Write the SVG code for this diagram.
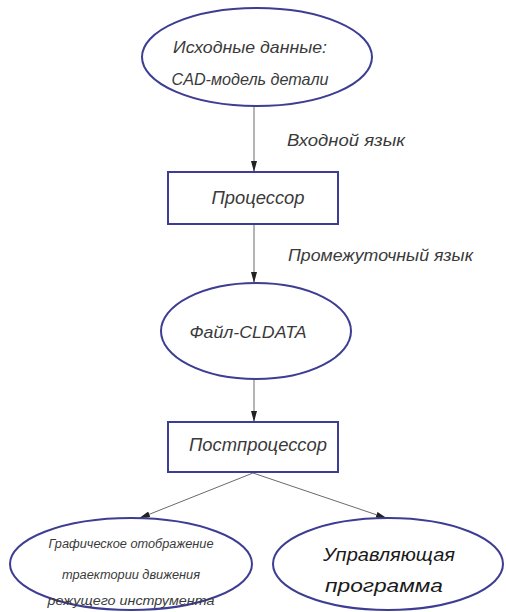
<svg xmlns="http://www.w3.org/2000/svg" width="506" height="612" viewBox="0 0 506 612">
<style>
.node{fill:#fff;stroke:#3d3d93;stroke-width:2}
.t{font-family:"Liberation Sans","DejaVu Sans",sans-serif;font-style:italic;fill:#3a3a3a;text-anchor:middle}
.lbl{font-family:"Liberation Sans","DejaVu Sans",sans-serif;font-style:italic;fill:#3a3a3a}
.c{stroke:#6a6a6a;stroke-width:1;fill:none;marker-end:url(#ah)}
</style>
<defs>
<marker id="ah" markerWidth="11" markerHeight="6" refX="10" refY="3" orient="auto" markerUnits="userSpaceOnUse">
<path d="M0,0 L11,3 L0,6 Z" fill="#222"/>
</marker>
</defs>
<rect width="506" height="612" fill="#fff"/>
<g id="connectors">
<line class="c" x1="254" y1="106" x2="254" y2="171"/>
<line class="c" x1="254" y1="224" x2="254" y2="282"/>
<line class="c" x1="254" y1="380" x2="254" y2="421"/>
<line class="c" x1="253" y1="473" x2="140" y2="518"/>
<line class="c" x1="253" y1="473" x2="386" y2="518"/>
</g>
<g id="label-input">
<text class="lbl" x="287" y="146" font-size="17" textLength="118" lengthAdjust="spacingAndGlyphs">Входной язык</text>
</g>
<g id="label-intermediate">
<text class="lbl" x="288" y="261" font-size="17" textLength="185" lengthAdjust="spacingAndGlyphs">Промежуточный язык</text>
</g>
<g id="source">
<ellipse class="node" cx="257" cy="57" rx="115" ry="49"/>
<text class="t" x="250" y="53" font-size="17" textLength="154" lengthAdjust="spacingAndGlyphs">Исходные данные:</text>
<text class="t" x="250" y="85" font-size="17" textLength="157" lengthAdjust="spacingAndGlyphs">CAD-модель детали</text>
</g>
<g id="processor">
<rect class="node" x="168" y="172" width="170" height="52"/>
<text class="t" x="258" y="204" font-size="18" textLength="93" lengthAdjust="spacingAndGlyphs">Процессор</text>
</g>
<g id="cldata">
<ellipse class="node" cx="256" cy="331" rx="95" ry="48"/>
<text class="t" x="248" y="338" font-size="17" textLength="117" lengthAdjust="spacingAndGlyphs">Файл-CLDATA</text>
</g>
<g id="postprocessor">
<rect class="node" x="168" y="422" width="170" height="50"/>
<text class="t" x="258" y="451" font-size="18" textLength="138" lengthAdjust="spacingAndGlyphs">Постпроцессор</text>
</g>
<g id="graphics">
<ellipse class="node" cx="131" cy="564" rx="121" ry="46"/>
<text class="t" x="131" y="548" font-size="12" textLength="165" lengthAdjust="spacingAndGlyphs">Графическое отображение</text>
<text class="t" x="131" y="579" font-size="12" textLength="138" lengthAdjust="spacingAndGlyphs">траектории движения</text>
<text class="t" x="131" y="605" font-size="12" textLength="167" lengthAdjust="spacingAndGlyphs">режущего инструмента</text>
</g>
<g id="program">
<ellipse class="node" cx="388" cy="564" rx="115" ry="46"/>
<text class="lbl" x="323" y="561" font-size="19" fill="#111" style="fill:#1a1a1a" textLength="132" lengthAdjust="spacingAndGlyphs">Управляющая</text>
<text class="lbl" x="325" y="592" font-size="19" style="fill:#1a1a1a" textLength="118" lengthAdjust="spacingAndGlyphs">программа</text>
</g>
</svg>
